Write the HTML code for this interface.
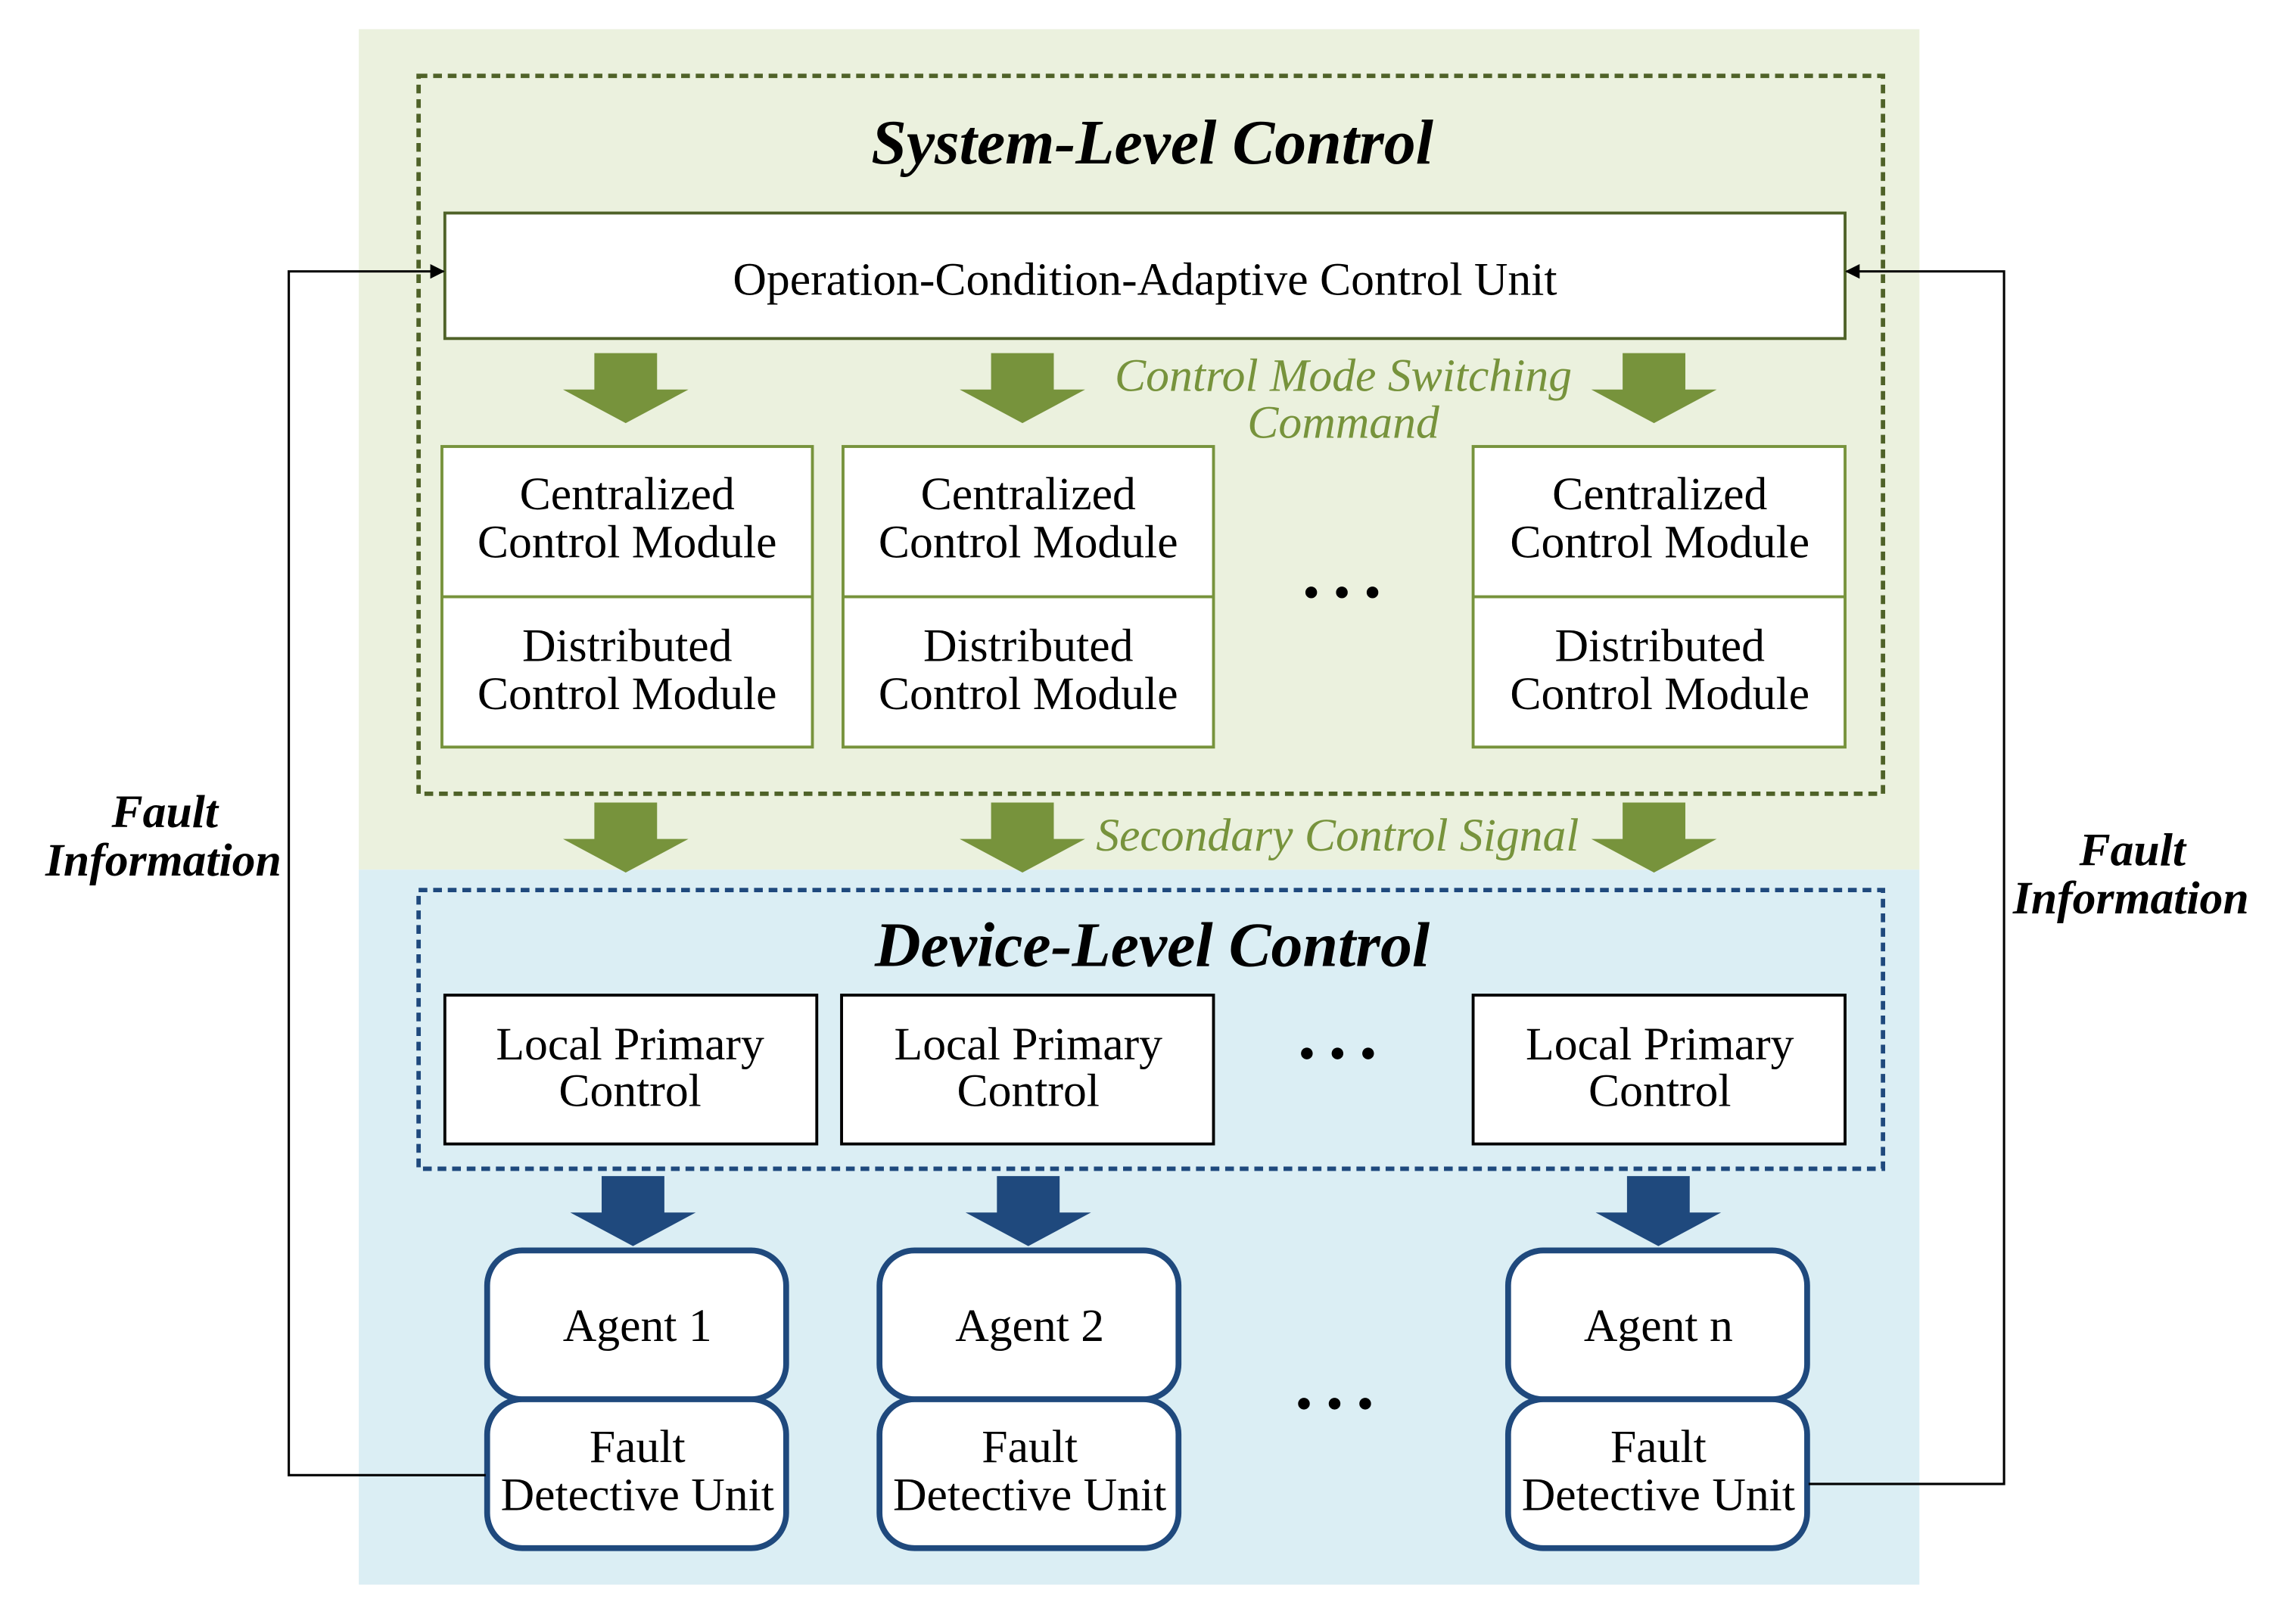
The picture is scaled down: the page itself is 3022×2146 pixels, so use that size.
<!DOCTYPE html>
<html><head><meta charset="utf-8"><style>html,body{margin:0;padding:0;background:#fff}svg{display:block}</style></head>
<body>
<svg width="3022" height="2146" viewBox="0 0 1568 1113" preserveAspectRatio="none" xmlns="http://www.w3.org/2000/svg" font-family="'Liberation Serif', serif">
<defs>
<marker id="ah" markerWidth="10" markerHeight="10" refX="9" refY="5" orient="auto" markerUnits="userSpaceOnUse"><path d="M0,0 L10,5 L0,10 z" fill="#000"/></marker>
<g id="ga"><path d="M-21.5,0 H21.5 V25 H43 L0,48 L-43,25 H-21.5 Z" fill="#77933c"/></g>
<g id="ba"><path d="M-21.5,0 H21.5 V25 H43 L0,48 L-43,25 H-21.5 Z" fill="#1f497d"/></g>
</defs>
<rect x="246" y="20" width="1070" height="576" fill="#ebf1de"/>
<rect x="246" y="596" width="1070" height="490" fill="#dbeef4"/>
<rect x="287" y="52" width="1004" height="492" fill="none" stroke="#4f6228" stroke-width="3" stroke-dasharray="6,4"/>
<text x="790" y="112" font-size="43.5" font-weight="bold" font-style="italic" text-anchor="middle">System-Level Control</text>
<rect x="305" y="146" width="960" height="86" fill="#fff" stroke="#4f6228" stroke-width="2"/>
<text x="785" y="202" font-size="32" text-anchor="middle">Operation-Condition-Adaptive Control Unit</text>
<use href="#ga" x="429" y="242"/><use href="#ga" x="701" y="242"/><use href="#ga" x="1134" y="242"/>
<text x="921" y="268" font-size="32" font-style="italic" fill="#77933c" text-anchor="middle">Control Mode Switching</text>
<text x="921" y="300" font-size="32" font-style="italic" fill="#77933c" text-anchor="middle">Command</text>
<g fill="#fff" stroke="#77933c" stroke-width="2">
<rect x="303" y="306" width="254" height="206"/><line x1="303" y1="409" x2="557" y2="409"/>
<rect x="578" y="306" width="254" height="206"/><line x1="578" y1="409" x2="832" y2="409"/>
<rect x="1010" y="306" width="255" height="206"/><line x1="1010" y1="409" x2="1265" y2="409"/>
</g>
<g font-size="32" text-anchor="middle">
<text x="430" y="349">Centralized</text><text x="430" y="382">Control Module</text>
<text x="430" y="453">Distributed</text><text x="430" y="486">Control Module</text>
<text x="705" y="349">Centralized</text><text x="705" y="382">Control Module</text>
<text x="705" y="453">Distributed</text><text x="705" y="486">Control Module</text>
<text x="1138" y="349">Centralized</text><text x="1138" y="382">Control Module</text>
<text x="1138" y="453">Distributed</text><text x="1138" y="486">Control Module</text>
</g>
<g fill="#000"><circle cx="899" cy="406" r="4"/><circle cx="920" cy="406" r="4"/><circle cx="941" cy="406" r="4"/>
<circle cx="896" cy="722" r="4"/><circle cx="917" cy="722" r="4"/><circle cx="938" cy="722" r="4"/>
<circle cx="894" cy="962" r="4"/><circle cx="915" cy="962" r="4"/><circle cx="936" cy="962" r="4"/></g>
<use href="#ga" x="429" y="550"/><use href="#ga" x="701" y="550"/><use href="#ga" x="1134" y="550"/>
<text x="917" y="583" font-size="32" font-style="italic" fill="#77933c" text-anchor="middle">Secondary Control Signal</text>
<rect x="287" y="610" width="1004" height="191" fill="none" stroke="#1f497d" stroke-width="3" stroke-dasharray="6,4"/>
<text x="790" y="662" font-size="43.5" font-weight="bold" font-style="italic" text-anchor="middle">Device-Level Control</text>
<g fill="#fff" stroke="#000" stroke-width="2">
<rect x="305" y="682" width="255" height="102"/><rect x="577" y="682" width="255" height="102"/><rect x="1010" y="682" width="255" height="102"/>
</g>
<g font-size="32" text-anchor="middle">
<text x="432" y="726">Local Primary</text><text x="432" y="758">Control</text>
<text x="705" y="726">Local Primary</text><text x="705" y="758">Control</text>
<text x="1138" y="726">Local Primary</text><text x="1138" y="758">Control</text>
</g>
<use href="#ba" x="434" y="806"/><use href="#ba" x="705" y="806"/><use href="#ba" x="1137" y="806"/>
<g fill="#fff" stroke="#1f497d" stroke-width="4">
<rect x="334" y="857" width="205" height="102" rx="24"/><rect x="334" y="959" width="205" height="102" rx="24"/>
<rect x="603" y="857" width="205" height="102" rx="24"/><rect x="603" y="959" width="205" height="102" rx="24"/>
<rect x="1034" y="857" width="205" height="102" rx="24"/><rect x="1034" y="959" width="205" height="102" rx="24"/>
</g>
<g font-size="32" text-anchor="middle">
<text x="437" y="919">Agent 1</text><text x="437" y="1002">Fault</text><text x="437" y="1035">Detective Unit</text>
<text x="706" y="919">Agent 2</text><text x="706" y="1002">Fault</text><text x="706" y="1035">Detective Unit</text>
<text x="1137" y="919">Agent n</text><text x="1137" y="1002">Fault</text><text x="1137" y="1035">Detective Unit</text>
</g>
<polyline points="333,1011 198,1011 198,186 304,186" fill="none" stroke="#000" stroke-width="1.6" marker-end="url(#ah)"/>
<polyline points="1240,1017 1374,1017 1374,186 1266,186" fill="none" stroke="#000" stroke-width="1.6" marker-end="url(#ah)"/>
<g font-size="32" font-weight="bold" font-style="italic" text-anchor="middle">
<text x="113" y="567">Fault</text><text x="112" y="600">Information</text>
<text x="1462" y="593">Fault</text><text x="1461" y="626">Information</text>
</g>
</svg>
</body></html>
